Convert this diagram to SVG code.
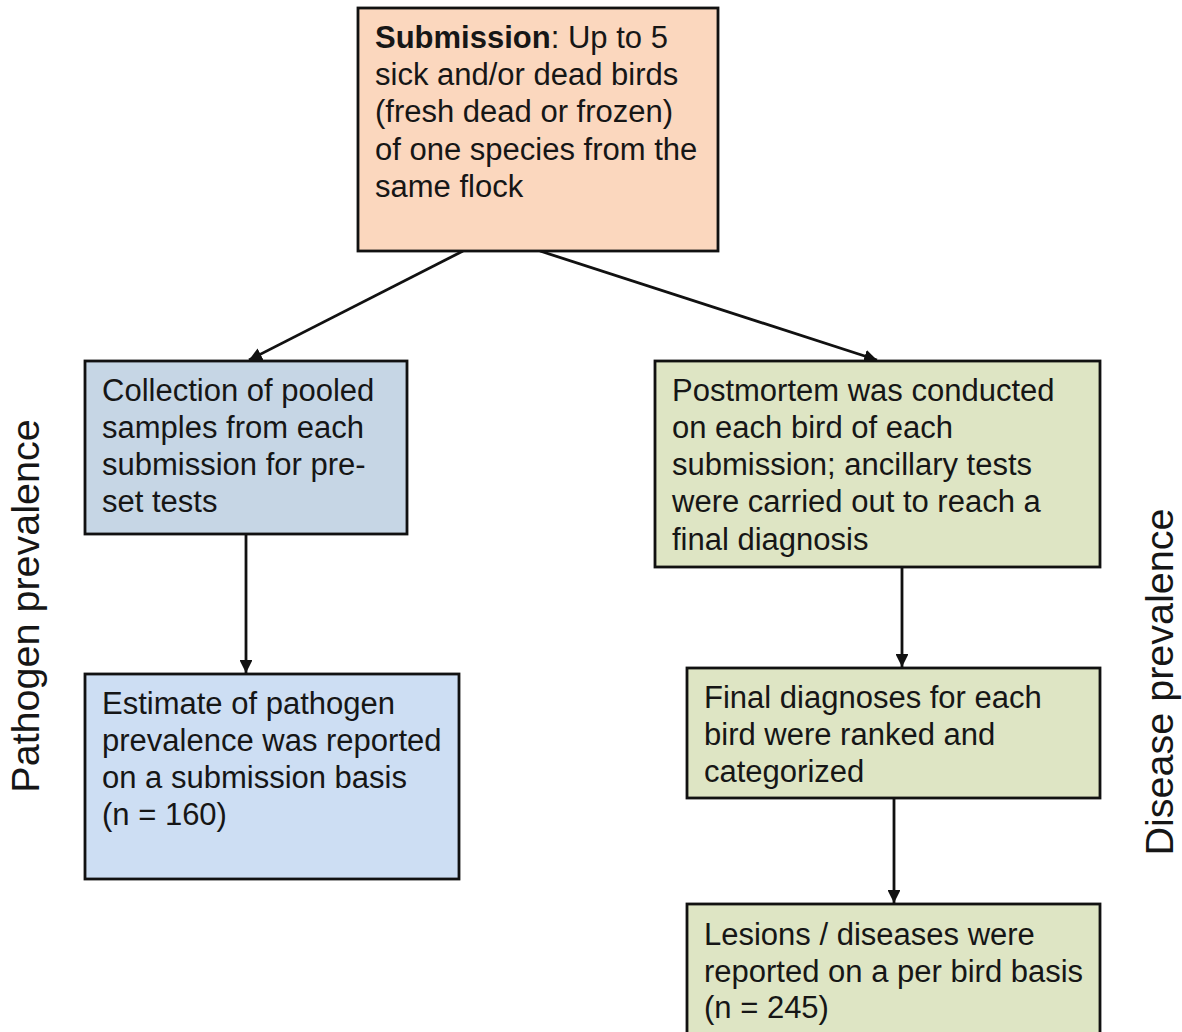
<svg xmlns="http://www.w3.org/2000/svg" width="1182" height="1032" viewBox="0 0 1182 1032">
<defs>
<style>
.box{stroke:#111;stroke-width:2.8}
.t{font-family:"Liberation Sans",Arial,sans-serif;font-size:31px;fill:#161616}
.side{font-family:"Liberation Sans",Arial,sans-serif;font-size:39.5px;fill:#161616;text-anchor:middle}
.c{stroke:#111;stroke-width:2.8;fill:none;marker-end:url(#ah)}
</style>
<marker id="ah" viewBox="0 0 10 10" refX="10" refY="5" markerWidth="4.6" markerHeight="4.6" markerUnits="strokeWidth" orient="auto">
<path d="M0,0 L10,5 L0,10 z" fill="#111"/>
</marker>
</defs>
<rect width="1182" height="1032" fill="#fff"/>
<g id="connectors">
<line class="c" x1="463" y1="251" x2="249" y2="360"/>
<line class="c" x1="540" y1="251" x2="877" y2="360"/>
<line class="c" x1="246" y1="535" x2="246" y2="673"/>
<line class="c" x1="902" y1="567" x2="902" y2="667"/>
<line class="c" x1="894" y1="798" x2="894" y2="903"/>
</g>
<g id="submission">
<rect class="box" x="358" y="8" width="360" height="243" fill="#fbd7be"/>
<text class="t" x="375" y="48"><tspan font-weight="bold">Submission</tspan>: Up to 5</text>
<text class="t" x="375" y="85">sick and/or dead birds</text>
<text class="t" x="375" y="122">(fresh dead or frozen)</text>
<text class="t" x="375" y="160">of one species from the</text>
<text class="t" x="375" y="197">same flock</text>
</g>
<g id="collection">
<rect class="box" x="85" y="361" width="322" height="173" fill="#c6d6e5"/>
<text class="t" x="102" y="401">Collection of pooled</text>
<text class="t" x="102" y="438">samples from each</text>
<text class="t" x="102" y="475">submission for pre-</text>
<text class="t" x="102" y="512">set tests</text>
</g>
<g id="estimate">
<rect class="box" x="85" y="674" width="374" height="205" fill="#cddef3"/>
<text class="t" x="102" y="714">Estimate of pathogen</text>
<text class="t" x="102" y="751">prevalence was reported</text>
<text class="t" x="102" y="788">on a submission basis</text>
<text class="t" x="102" y="825">(n = 160)</text>
</g>
<g id="postmortem">
<rect class="box" x="655" y="361" width="445" height="206" fill="#dee5c4"/>
<text class="t" x="672" y="401">Postmortem was conducted</text>
<text class="t" x="672" y="438">on each bird of each</text>
<text class="t" x="672" y="475">submission; ancillary tests</text>
<text class="t" x="672" y="512">were carried out to reach a</text>
<text class="t" x="672" y="550">final diagnosis</text>
</g>
<g id="ranked">
<rect class="box" x="687" y="668" width="413" height="130" fill="#dee5c4"/>
<text class="t" x="704" y="708">Final diagnoses for each</text>
<text class="t" x="704" y="745">bird were ranked and</text>
<text class="t" x="704" y="782">categorized</text>
</g>
<g id="lesions">
<rect class="box" x="687" y="904" width="413" height="140" fill="#dee5c4"/>
<text class="t" x="704" y="945">Lesions / diseases were</text>
<text class="t" x="704" y="982">reported on a per bird basis</text>
<text class="t" x="704" y="1018">(n = 245)</text>
</g>
<g id="pathogen-label">
<text class="side" transform="translate(39,606) rotate(-90)">Pathogen prevalence</text>
</g>
<g id="disease-label">
<text class="side" transform="translate(1173,682) rotate(-90)">Disease prevalence</text>
</g>
</svg>
